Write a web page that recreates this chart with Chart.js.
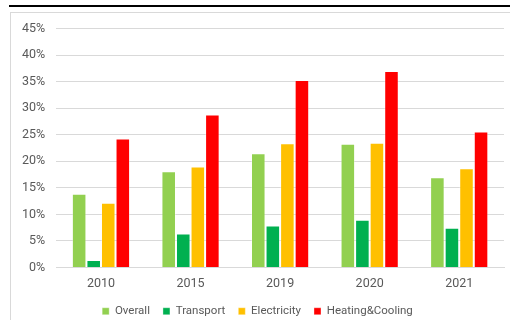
<!DOCTYPE html>
<html>
<head>
<meta charset="utf-8">
<script src="https://cdn.jsdelivr.net/npm/chart.js@4/dist/chart.umd.min.js"></script>
<style>
    body { margin: 0; background: #fff; overflow: hidden; }
    #topLine { position: absolute; left: 9px; top: 5px; width: 501px; height: 2px; background: #000; }
    #box { position: absolute; left: 10px; top: 12px; width: 500px; height: 320px; border: 1px solid #d9d9d9; border-right: none; border-bottom: none; }
    #wrap { position: absolute; left: 11px; top: 10px; width: 499px; height: 317px; }
</style>
</head>
<body>
<div id="topLine"></div>
<div id="box"></div>
<div id="wrap"><canvas id="shareChart"></canvas></div>
<script>
const years = ['2010', '2015', '2019', '2020', '2021'];
const overall = [13.9, 18.1, 21.5, 23.3, 17.0];
const transport = [1.4, 6.4, 7.9, 9.0, 7.5];
const electricity = [12.2, 19.0, 23.4, 23.5, 18.7];
const heatingCooling = [24.3, 28.8, 35.3, 37.0, 25.6];

const grey = '#595959';
const font = { family: "Roboto, sans-serif", size: 12.5 };
const legendFont = { family: "Roboto, sans-serif", size: 11.5 };

const ctx = document.getElementById('shareChart').getContext('2d');
new Chart(ctx, {
    type: 'bar',
    data: {
        labels: years,
        datasets: [
            { label: 'Overall', data: overall, backgroundColor: '#92D050' },
            { label: 'Transport', data: transport, backgroundColor: '#00B050' },
            { label: 'Electricity', data: electricity, backgroundColor: '#FFC000' },
            { label: 'Heating&Cooling', data: heatingCooling, backgroundColor: '#FF0000' }
        ]
    },
    options: {
        responsive: true,
        maintainAspectRatio: false,
        animation: false,
        datasets: {
            bar: {
                categoryPercentage: 0.65,
                barPercentage: 1.0,
                borderWidth: 1,
                borderColor: 'rgba(255, 255, 255, 0.35)'
            }
        },
        layout: {
            padding: { left: 0, right: 6, top: 1, bottom: 0 }
        },
        scales: {
            x: {
                grid: { display: false },
                border: { color: '#d9d9d9' },
                ticks: { color: grey, font: font, padding: 1 }
            },
            y: {
                min: 0,
                max: 45,
                border: { display: false },
                grid: { color: '#d9d9d9', lineWidth: 1, drawTicks: false },
                ticks: {
                    stepSize: 5,
                    color: grey,
                    font: font,
                    padding: 11,
                    callback: function (value) {
                        return value + '%';
                    }
                }
            }
        },
        plugins: {
            legend: {
                position: 'bottom',
                labels: {
                    color: grey,
                    font: legendFont,
                    boxWidth: 7,
                    boxHeight: 7,
                    padding: 13
                }
            },
            tooltip: { enabled: false }
        }
    }
});
</script>
</body>
</html>
